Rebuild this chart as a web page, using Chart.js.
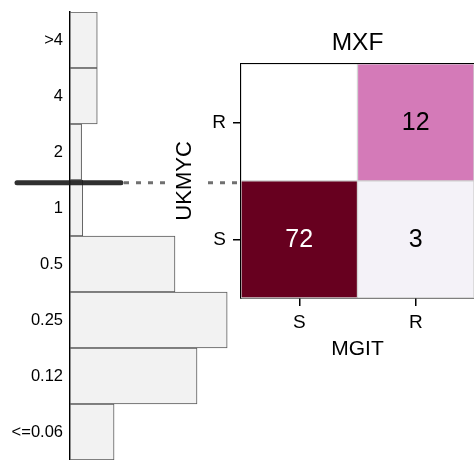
<!DOCTYPE html>
<html>
<head>
<meta charset="utf-8">
<script src="https://cdn.jsdelivr.net/npm/chart.js@4"></script>
<style>
  html, body { margin: 0; padding: 0; background: #fff; overflow: hidden; }
  #wrap { position: relative; width: 474px; height: 460px; }
  canvas { position: absolute; left: 0; top: 0; }
</style>
</head>
<body>
<div id="wrap">
  <canvas id="hist" width="474" height="460"></canvas>
  <canvas id="heat" width="480" height="460"></canvas>
</div>
<script>
// MIC distribution (top to bottom)
const micLabels = ['>4', '4', '2', '1', '0.5', '0.25', '0.12', '<=0.06'];
const micCounts = [4.7, 4.7, 2.0, 2.2, 18.1, 27.1, 21.9, 7.6];
const breakpointMic = '1'; // line sits just inside the top of this band

// MGIT vs UKMYC agreement table
const mgitLabels = ['S', 'R'];
const ukmycLabels = ['S', 'R']; // bottom row first
const ukmycSCounts = [72, 3];
const ukmycRCounts = [0, 12];
const ukmycSColours = ['#67001f', '#f4f2f8'];
const ukmycRColours = ['#ffffff', '#d47ab8'];

const FONT = '"Liberation Sans", Arial, Helvetica, sans-serif';
Chart.defaults.font.family = FONT;
Chart.defaults.color = '#000';

// histogram on the left
const breakpointLine = {
    id: 'breakpointLine',
    afterDatasetsDraw(chart, args, opts) {
        const y = chart.scales.y;
        const i = micLabels.indexOf(breakpointMic);
        const py = y.getPixelForValue(i - 0.45);
        const ctx = chart.ctx;
        ctx.save();
        // dotted part
        ctx.strokeStyle = '#707070';
        ctx.lineWidth = 3;
        ctx.setLineDash([5, 7]);
        ctx.beginPath();
        ctx.moveTo(opts.solidTo + 3, py);
        ctx.lineTo(opts.dottedTo, py);
        ctx.stroke();
        // solid part
        ctx.setLineDash([]);
        ctx.strokeStyle = 'rgba(25,25,25,0.9)';
        ctx.lineWidth = 5;
        ctx.lineCap = 'round';
        ctx.beginPath();
        ctx.moveTo(opts.solidFrom, py);
        ctx.lineTo(opts.solidTo, py);
        ctx.stroke();
        ctx.restore();
    }
};

new Chart(document.getElementById('hist').getContext('2d'), {
    type: 'bar',
    data: {
        labels: micLabels,
        datasets: [{
            data: micCounts,
            backgroundColor: '#f2f2f2',
            borderColor: '#5a5a5a',
            borderWidth: 1,
            borderSkipped: false,
            categoryPercentage: 1,
            barPercentage: 1,
        }],
    },
    options: {
        indexAxis: 'y',
        responsive: false,
        animation: false,
        layout: { padding: { top: 12, right: 172, bottom: 0, left: 0 } },
        plugins: {
            legend: { display: false },
            tooltip: { enabled: false },
            breakpointLine: { solidFrom: 17, solidTo: 121, dottedTo: 244 },
        },
        scales: {
            x: { type: 'linear', min: 0, max: 40, display: false },
            y: {
                grid: { display: false, drawTicks: false },
                border: { display: true, color: '#000', width: 1.5 },
                ticks: { font: { size: 16.5 }, color: '#000', padding: 7 },
                afterFit(s) {
                    s.width = 70;
                    s.paddingTop = 0;
                    s.paddingBottom = 0;
                },
            },
        },
    },
    plugins: [breakpointLine],
});

// agreement heatmap on the right
const cellCounts = [ukmycSCounts, ukmycRCounts];
const cellColours = [ukmycSColours, ukmycRColours];

const cellText = {
    id: 'cellText',
    afterDatasetsDraw(chart) {
        const ctx = chart.ctx;
        ctx.save();
        ctx.font = '25px ' + FONT;
        ctx.textAlign = 'center';
        ctx.textBaseline = 'middle';
        chart.data.datasets.forEach((ds, r) => {
            chart.getDatasetMeta(r).data.forEach((bar, c) => {
                const n = cellCounts[r][c];
                if (!n) return;
                ctx.fillStyle = n > 36 ? '#fff' : '#000';
                ctx.fillText(String(n), bar.x, (bar.y + bar.base) / 2 + 1);
            });
        });
        ctx.restore();
    }
};

// white box behind the y title so the dotted line breaks around it
const titleBackdrop = {
    id: 'titleBackdrop',
    beforeDraw(chart) {
        const y = chart.scales.y;
        const t = y.options.title;
        const font = Chart.helpers.toFont(t.font);
        const pad = Chart.helpers.toPadding(t.padding);
        const cx = y.left + pad.top + font.lineHeight / 2;
        const cy = (chart.chartArea.top + chart.chartArea.bottom) / 2;
        const ctx = chart.ctx;
        ctx.save();
        ctx.font = font.string;
        const w = ctx.measureText(t.text).width;
        ctx.fillStyle = '#fff';
        ctx.fillRect(cx - font.lineHeight / 2 - 5, cy - w / 2, font.lineHeight + 10, w);
        ctx.restore();
    }
};

new Chart(document.getElementById('heat').getContext('2d'), {
    type: 'bar',
    data: {
        labels: mgitLabels,
        datasets: ukmycLabels.map((row, r) => ({
            label: 'UKMYC ' + row,
            data: mgitLabels.map(() => [r, r + 1]),
            backgroundColor: cellColours[r],
            borderColor: '#cfcfcf',
            borderWidth: 1,
            borderSkipped: false,
            grouped: false,
            categoryPercentage: 1,
            barPercentage: 1,
        })),
    },
    options: {
        responsive: false,
        animation: false,
        layout: { padding: { top: 0, right: 6, bottom: 92, left: 161 } },
        plugins: {
            legend: { display: false },
            tooltip: { enabled: false },
            title: {
                display: true,
                text: 'MXF',
                fullSize: false,
                color: '#000',
                font: { size: 24.5, weight: 'normal' },
                padding: { top: 29, bottom: 5.5 },
            },
        },
        scales: {
            x: {
                type: 'category',
                grid: { offset: false, drawOnChartArea: false, tickLength: 8, color: '#000', lineWidth: 1.5 },
                border: { display: true, color: '#000', width: 1.5 },
                ticks: { font: { size: 19 }, color: '#000', padding: 5 },
                title: { display: true, text: 'MGIT', color: '#000', font: { size: 21 }, padding: { top: 0, bottom: 6 } },
                afterFit(s) {
                    s.height = 70;
                    s.paddingLeft = 0;
                    s.paddingRight = 0;
                },
            },
            xTop: {
                type: 'linear',
                position: 'top',
                ticks: { display: false },
                grid: { display: false, drawTicks: false },
                border: { display: true, color: '#000', width: 1.5 },
            },
            y: {
                type: 'linear',
                min: 0,
                max: ukmycLabels.length,
                afterBuildTicks(s) {
                    s.ticks = ukmycLabels.map((_, i) => ({ value: i + 0.5 }));
                },
                grid: { drawOnChartArea: false, tickLength: 8, color: '#000', lineWidth: 1.5 },
                border: { display: true, color: '#000', width: 1.5 },
                ticks: {
                    font: { size: 19 },
                    color: '#000',
                    padding: 7,
                    callback: (v, i) => ukmycLabels[i],
                },
                title: { display: true, text: 'UKMYC', color: '#000', font: { size: 22 }, padding: { top: 11, bottom: 0 } },
                afterFit(s) {
                    s.width = 80;
                    s.paddingTop = 0;
                    s.paddingBottom = 0;
                },
            },
        },
    },
    plugins: [cellText, titleBackdrop],
});
</script>
</body>
</html>
